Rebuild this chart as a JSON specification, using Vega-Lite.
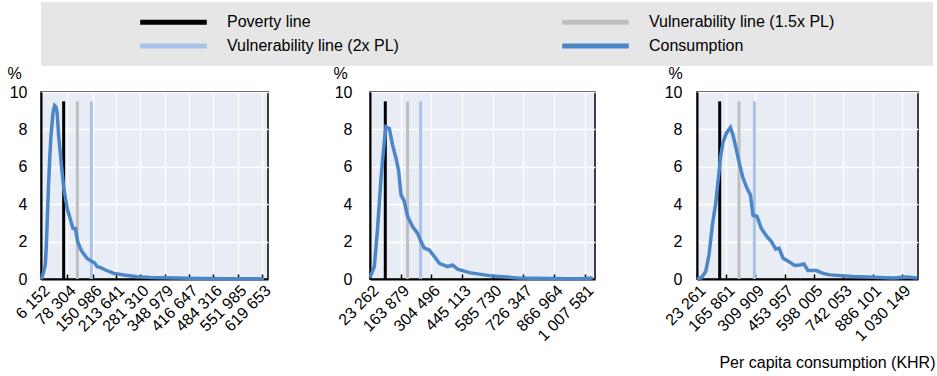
{
  "$schema": "https://vega.github.io/schema/vega-lite/v6.json",
  "padding": {"left": 6, "top": 2, "right": 4, "bottom": 2},
  "background": "white",
  "config": {
    "font": "Liberation Sans",
    "view": {"stroke": "black", "strokeWidth": 1.5, "fill": "#e8ecf5"},
    "axis": {
      "labelFont": "Liberation Sans", "labelFontSize": 16, "labelColor": "black", "labelOverlap": false,
      "titleFont": "Liberation Sans", "titleFontSize": 16, "titleFontWeight": "normal", "titleColor": "black",
      "domainColor": "black", "domainWidth": 2, "gridColor": "white", "gridWidth": 1.5, "tickColor": "black", "tickWidth": 1.5
    },
    "legend": {"labelFont": "Liberation Sans", "labelFontSize": 16, "labelColor": "black"}
  },
  "datasets": {
    "consumption": [
      {"panel": 1, "consumption": 6152, "pct": 0},
      {"panel": 1, "consumption": 9000, "pct": 0.1},
      {"panel": 1, "consumption": 13000, "pct": 0.35},
      {"panel": 1, "consumption": 18000, "pct": 0.75},
      {"panel": 1, "consumption": 21000, "pct": 1.8},
      {"panel": 1, "consumption": 24000, "pct": 3.4},
      {"panel": 1, "consumption": 27000, "pct": 5.0},
      {"panel": 1, "consumption": 30500, "pct": 6.5},
      {"panel": 1, "consumption": 34000, "pct": 7.7},
      {"panel": 1, "consumption": 39500, "pct": 8.9},
      {"panel": 1, "consumption": 44000, "pct": 9.27},
      {"panel": 1, "consumption": 47500, "pct": 9.2},
      {"panel": 1, "consumption": 50600, "pct": 8.95},
      {"panel": 1, "consumption": 55000, "pct": 7.7},
      {"panel": 1, "consumption": 61700, "pct": 6.3},
      {"panel": 1, "consumption": 69000, "pct": 4.9},
      {"panel": 1, "consumption": 78400, "pct": 3.8},
      {"panel": 1, "consumption": 89500, "pct": 3.06},
      {"panel": 1, "consumption": 95000, "pct": 2.7},
      {"panel": 1, "consumption": 101500, "pct": 2.7},
      {"panel": 1, "consumption": 107800, "pct": 2.0},
      {"panel": 1, "consumption": 114000, "pct": 1.7},
      {"panel": 1, "consumption": 120000, "pct": 1.47},
      {"panel": 1, "consumption": 134000, "pct": 1.1},
      {"panel": 1, "consumption": 148000, "pct": 0.93},
      {"panel": 1, "consumption": 155000, "pct": 0.85},
      {"panel": 1, "consumption": 162000, "pct": 0.66},
      {"panel": 1, "consumption": 170000, "pct": 0.62},
      {"panel": 1, "consumption": 185000, "pct": 0.48},
      {"panel": 1, "consumption": 208000, "pct": 0.3},
      {"panel": 1, "consumption": 236000, "pct": 0.21},
      {"panel": 1, "consumption": 273000, "pct": 0.12},
      {"panel": 1, "consumption": 310000, "pct": 0.08},
      {"panel": 1, "consumption": 380000, "pct": 0.05},
      {"panel": 1, "consumption": 450000, "pct": 0.03},
      {"panel": 1, "consumption": 530000, "pct": 0.02},
      {"panel": 1, "consumption": 625000, "pct": 0.02},
      {"panel": 2, "consumption": 23262, "pct": 0.07},
      {"panel": 2, "consumption": 43000, "pct": 0.66},
      {"panel": 2, "consumption": 58000, "pct": 2.7},
      {"panel": 2, "consumption": 73700, "pct": 5.4},
      {"panel": 2, "consumption": 88800, "pct": 7.36},
      {"panel": 2, "consumption": 96500, "pct": 8.14},
      {"panel": 2, "consumption": 102000, "pct": 8.1},
      {"panel": 2, "consumption": 111700, "pct": 8.05},
      {"panel": 2, "consumption": 126800, "pct": 7.16},
      {"panel": 2, "consumption": 142400, "pct": 6.45},
      {"panel": 2, "consumption": 154300, "pct": 5.8},
      {"panel": 2, "consumption": 165300, "pct": 4.5},
      {"panel": 2, "consumption": 180400, "pct": 4.15},
      {"panel": 2, "consumption": 195500, "pct": 3.35},
      {"panel": 2, "consumption": 218400, "pct": 2.8},
      {"panel": 2, "consumption": 241300, "pct": 2.44},
      {"panel": 2, "consumption": 256900, "pct": 2.0},
      {"panel": 2, "consumption": 272000, "pct": 1.65},
      {"panel": 2, "consumption": 294900, "pct": 1.55},
      {"panel": 2, "consumption": 317800, "pct": 1.2},
      {"panel": 2, "consumption": 340700, "pct": 0.84},
      {"panel": 2, "consumption": 378700, "pct": 0.66},
      {"panel": 2, "consumption": 401600, "pct": 0.75},
      {"panel": 2, "consumption": 424500, "pct": 0.52},
      {"panel": 2, "consumption": 478100, "pct": 0.34},
      {"panel": 2, "consumption": 523900, "pct": 0.26},
      {"panel": 2, "consumption": 569700, "pct": 0.18},
      {"panel": 2, "consumption": 630600, "pct": 0.12},
      {"panel": 2, "consumption": 700000, "pct": 0.06},
      {"panel": 2, "consumption": 768000, "pct": 0.04},
      {"panel": 2, "consumption": 850000, "pct": 0.03},
      {"panel": 2, "consumption": 921000, "pct": 0.02},
      {"panel": 2, "consumption": 1000000, "pct": 0.03},
      {"panel": 2, "consumption": 1043000, "pct": 0.05},
      {"panel": 3, "consumption": 23261, "pct": 0},
      {"panel": 3, "consumption": 44900, "pct": 0.07},
      {"panel": 3, "consumption": 66000, "pct": 0.4},
      {"panel": 3, "consumption": 82300, "pct": 1.28},
      {"panel": 3, "consumption": 99000, "pct": 2.9},
      {"panel": 3, "consumption": 115200, "pct": 4.04},
      {"panel": 3, "consumption": 131400, "pct": 5.7},
      {"panel": 3, "consumption": 138300, "pct": 6.5},
      {"panel": 3, "consumption": 151100, "pct": 7.3},
      {"panel": 3, "consumption": 167800, "pct": 7.8},
      {"panel": 3, "consumption": 187500, "pct": 8.1},
      {"panel": 3, "consumption": 200300, "pct": 7.7},
      {"panel": 3, "consumption": 217000, "pct": 6.9},
      {"panel": 3, "consumption": 233200, "pct": 6.1},
      {"panel": 3, "consumption": 249400, "pct": 5.4},
      {"panel": 3, "consumption": 269100, "pct": 4.85},
      {"panel": 3, "consumption": 285800, "pct": 4.5},
      {"panel": 3, "consumption": 298600, "pct": 3.4},
      {"panel": 3, "consumption": 318200, "pct": 3.35},
      {"panel": 3, "consumption": 339900, "pct": 2.7},
      {"panel": 3, "consumption": 364500, "pct": 2.3},
      {"panel": 3, "consumption": 389000, "pct": 2.0},
      {"panel": 3, "consumption": 410200, "pct": 1.6},
      {"panel": 3, "consumption": 426400, "pct": 1.65},
      {"panel": 3, "consumption": 446100, "pct": 1.12},
      {"panel": 3, "consumption": 479000, "pct": 0.9},
      {"panel": 3, "consumption": 503600, "pct": 0.72},
      {"panel": 3, "consumption": 528200, "pct": 0.75},
      {"panel": 3, "consumption": 549300, "pct": 0.8},
      {"panel": 3, "consumption": 569000, "pct": 0.45},
      {"panel": 3, "consumption": 610300, "pct": 0.45},
      {"panel": 3, "consumption": 642700, "pct": 0.3},
      {"panel": 3, "consumption": 675700, "pct": 0.22},
      {"panel": 3, "consumption": 790200, "pct": 0.13},
      {"panel": 3, "consumption": 888600, "pct": 0.1},
      {"panel": 3, "consumption": 986900, "pct": 0.05},
      {"panel": 3, "consumption": 1052700, "pct": 0.1},
      {"panel": 3, "consumption": 1107000, "pct": 0.05}
    ],
    "lines": [
      {"panel": 1, "series": "Poverty line", "value": 69000},
      {"panel": 1, "series": "Vulnerability line (1.5x PL)", "value": 107000},
      {"panel": 1, "series": "Vulnerability line (2x PL)", "value": 146000},
      {"panel": 2, "series": "Poverty line", "value": 93300},
      {"panel": 2, "series": "Vulnerability line (1.5x PL)", "value": 195500},
      {"panel": 2, "series": "Vulnerability line (2x PL)", "value": 255000},
      {"panel": 3, "series": "Poverty line", "value": 134900},
      {"panel": 3, "series": "Vulnerability line (1.5x PL)", "value": 229800},
      {"panel": 3, "series": "Vulnerability line (2x PL)", "value": 305500}
    ]
  },
  "spacing": 26,
  "bounds": "flush",
  "vconcat": [
    {
      "width": 892, "height": 64,
      "view": {"fill": "#e6e6e6", "stroke": null},
      "data": {"values": [{"t": ""}]},
      "mark": {"type": "text"},
      "encoding": {"text": {"field": "t", "type": "nominal"}}
    },
    {
      "spacing": 102,
      "bounds": "flush",
      "hconcat": [
        {
          "width": 227, "height": 187,
          "layer": [
            {
              "data": {"name": "lines"},
              "transform": [{"filter": "datum.panel == 1"}],
              "mark": {"type": "rule", "strokeWidth": 3},
              "encoding": {
                "x": {"field": "value", "type": "quantitative", "scale": {"domain": [6152, 635772], "nice": false, "zero": false},
                  "axis": {"title": null, "values": [6152, 78304, 150986, 213641, 281310, 348979, 416647, 484316, 551985, 619653], "labelExpr": "replace(format(datum.value, ','), regexp(',', 'g'), ' ')", "labelAngle": -45, "labelAlign": "right", "labelBaseline": "top", "labelOverlap": false, "tickSize": -5, "labelPadding": 8, "grid": true}},
                "y": {"datum": 0, "type": "quantitative", "scale": {"domain": [0, 10], "nice": false},
                  "axis": {"title": "%", "values": [0, 2, 4, 6, 8, 10], "labelOverlap": false, "titleAngle": 0, "titleAlign": "center", "titleX": -27, "titleY": -14, "titleBaseline": "alphabetic", "tickSize": 0, "labelPadding": 14, "grid": true}},
                "y2": {"datum": 9.5},
                "color": {"field": "series", "type": "nominal",
                  "scale": {"domain": ["Poverty line", "Vulnerability line (1.5x PL)", "Vulnerability line (2x PL)", "Consumption"], "range": ["#000000", "#bfbfbf", "#a9c2e7", "#4a86c8"]},
                  "legend": {"orient": "none", "legendX": 121, "legendY": 8.5, "direction": "horizontal", "columns": 2, "title": null, "symbolType": "M -3.7 0 L 3.7 0", "symbolSize": 324, "symbolStrokeWidth": 5, "symbolFillColor": "transparent", "labelOffset": 42, "columnPadding": 153, "rowPadding": 2, "labelLimit": 400, "padding": 0}}
              }
            },
            {
              "data": {"name": "consumption"},
              "transform": [{"filter": "datum.panel == 1"}],
              "mark": {"type": "line", "strokeWidth": 3.5},
              "encoding": {
                "x": {"field": "consumption", "type": "quantitative", "axis": {"title": null, "values": [6152, 78304, 150986, 213641, 281310, 348979, 416647, 484316, 551985, 619653], "labelExpr": "replace(format(datum.value, ','), regexp(',', 'g'), ' ')", "labelAngle": -45, "labelAlign": "right", "labelBaseline": "top", "labelOverlap": false, "tickSize": -5, "labelPadding": 8, "grid": true}},
                "y": {"field": "pct", "type": "quantitative", "axis": {"title": "%", "values": [0, 2, 4, 6, 8, 10], "labelOverlap": false, "titleAngle": 0, "titleAlign": "center", "titleX": -27, "titleY": -14, "titleBaseline": "alphabetic", "tickSize": 0, "labelPadding": 14, "grid": true}},
                "color": {"datum": "Consumption", "type": "nominal"}
              }
            }
          ]
        },
        {
          "width": 225, "height": 187,
          "layer": [
            {
              "data": {"name": "lines"},
              "transform": [{"filter": "datum.panel == 2"}],
              "mark": {"type": "rule", "strokeWidth": 3},
              "encoding": {
                "x": {"field": "value", "type": "quantitative", "scale": {"domain": [23262, 1053862], "nice": false, "zero": false},
                  "axis": {"title": null, "values": [23262, 163879, 304496, 445113, 585730, 726347, 866964, 1007581], "labelExpr": "replace(format(datum.value, ','), regexp(',', 'g'), ' ')", "labelAngle": -45, "labelAlign": "right", "labelBaseline": "top", "labelOverlap": false, "tickSize": -5, "labelPadding": 8, "grid": true}},
                "y": {"datum": 0, "type": "quantitative", "scale": {"domain": [0, 10], "nice": false},
                  "axis": {"title": "%", "values": [0, 2, 4, 6, 8, 10], "labelOverlap": false, "titleAngle": 0, "titleAlign": "center", "titleX": -30, "titleY": -14, "titleBaseline": "alphabetic", "tickSize": 0, "labelPadding": 18, "grid": true}},
                "y2": {"datum": 9.5},
                "color": {"field": "series", "type": "nominal"}
              }
            },
            {
              "data": {"name": "consumption"},
              "transform": [{"filter": "datum.panel == 2"}],
              "mark": {"type": "line", "strokeWidth": 3.5},
              "encoding": {
                "x": {"field": "consumption", "type": "quantitative", "axis": {"title": null, "values": [23262, 163879, 304496, 445113, 585730, 726347, 866964, 1007581], "labelExpr": "replace(format(datum.value, ','), regexp(',', 'g'), ' ')", "labelAngle": -45, "labelAlign": "right", "labelBaseline": "top", "labelOverlap": false, "tickSize": -5, "labelPadding": 8, "grid": true}},
                "y": {"field": "pct", "type": "quantitative", "axis": {"title": "%", "values": [0, 2, 4, 6, 8, 10], "labelOverlap": false, "titleAngle": 0, "titleAlign": "center", "titleX": -30, "titleY": -14, "titleBaseline": "alphabetic", "tickSize": 0, "labelPadding": 18, "grid": true}},
                "color": {"datum": "Consumption", "type": "nominal"}
              }
            }
          ]
        },
        {
          "width": 221, "height": 187,
          "layer": [
            {
              "data": {"name": "lines"},
              "transform": [{"filter": "datum.panel == 3"}],
              "mark": {"type": "rule", "strokeWidth": 3},
              "encoding": {
                "x": {"field": "value", "type": "quantitative", "scale": {"domain": [23261, 1109791], "nice": false, "zero": false},
                  "axis": {"title": "Per capita consumption (KHR)", "titleAnchor": "end", "titleAlign": "right", "titleX": 238, "titleY": 88, "titleBaseline": "alphabetic", "values": [23261, 165861, 309909, 453957, 598005, 742053, 886101, 1030149], "labelExpr": "replace(format(datum.value, ','), regexp(',', 'g'), ' ')", "labelAngle": -45, "labelAlign": "right", "labelBaseline": "top", "labelOverlap": false, "tickSize": -5, "labelPadding": 8, "grid": true}},
                "y": {"datum": 0, "type": "quantitative", "scale": {"domain": [0, 10], "nice": false},
                  "axis": {"title": "%", "values": [0, 2, 4, 6, 8, 10], "labelOverlap": false, "titleAngle": 0, "titleAlign": "center", "titleX": -22, "titleY": -14, "titleBaseline": "alphabetic", "tickSize": 0, "labelPadding": 15, "grid": true}},
                "y2": {"datum": 9.5},
                "color": {"field": "series", "type": "nominal"}
              }
            },
            {
              "data": {"name": "consumption"},
              "transform": [{"filter": "datum.panel == 3"}],
              "mark": {"type": "line", "strokeWidth": 3.5},
              "encoding": {
                "x": {"field": "consumption", "type": "quantitative", "axis": {"title": "Per capita consumption (KHR)", "titleAnchor": "end", "titleAlign": "right", "titleX": 238, "titleY": 88, "titleBaseline": "alphabetic", "values": [23261, 165861, 309909, 453957, 598005, 742053, 886101, 1030149], "labelExpr": "replace(format(datum.value, ','), regexp(',', 'g'), ' ')", "labelAngle": -45, "labelAlign": "right", "labelBaseline": "top", "labelOverlap": false, "tickSize": -5, "labelPadding": 8, "grid": true}},
                "y": {"field": "pct", "type": "quantitative", "axis": {"title": "%", "values": [0, 2, 4, 6, 8, 10], "labelOverlap": false, "titleAngle": 0, "titleAlign": "center", "titleX": -22, "titleY": -14, "titleBaseline": "alphabetic", "tickSize": 0, "labelPadding": 15, "grid": true}},
                "color": {"datum": "Consumption", "type": "nominal"}
              }
            }
          ]
        }
      ]
    }
  ]
}
